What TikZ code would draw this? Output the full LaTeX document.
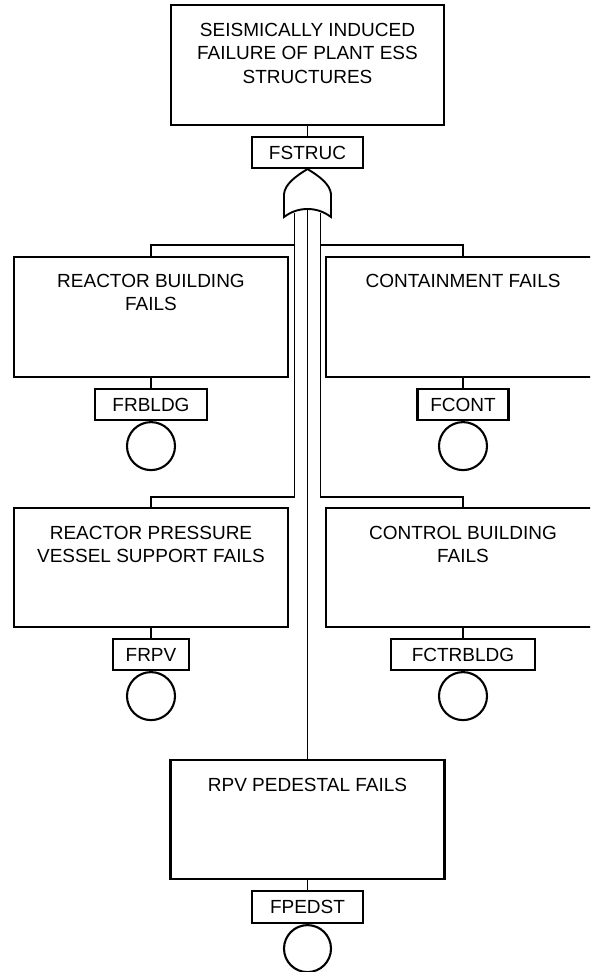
\documentclass[tikz,border=0pt]{standalone}
\usepackage{fontspec}
\setmainfont{Liberation Sans}
\begin{document}
\begin{tikzpicture}[x=1pt,y=-1pt,line width=2.1pt,
  box/.style={draw, rectangle, inner sep=0pt, minimum width=274pt, minimum height=120pt},
  tag/.style={draw, rectangle, inner sep=0pt, minimum height=31pt, font=\fontsize{19}{23.5}\selectfont},
  txt/.style={anchor=north, inner sep=0pt, align=center, font=\fontsize{19}{23.5}\selectfont},
  evt/.style={draw, circle, inner sep=0pt, minimum size=48pt, anchor=north},
  wire/.style={line width=1.9pt}]
\useasboundingbox (0,0) rectangle (590,972);
\clip (0,0) rectangle (590,972);
% top event
\node[box, minimum width=273pt] (top) at (307.5,65) {};
\node[txt] (ttop) at (307.5,22) {SEISMICALLY INDUCED\\FAILURE OF PLANT ESS\\STRUCTURES};
\node[tag, minimum width=111pt] (fstruc) at (307.5,152.5) {FSTRUC};
\draw[wire] (top.south) -- (fstruc.north);
% OR gate
\draw[wire] (fstruc.south) .. controls (296,176) and (285,184) .. (284,194) -- (284,217)
  .. controls (292,211) and (300,209) .. (307.5,209)
  .. controls (315,209) and (323,211) .. (331,217) -- (331,194)
  .. controls (330,184) and (319,176) .. (fstruc.south) -- cycle;
\coordinate (gl) at (294.5,212.5);
\coordinate (gc) at (307.5,209);
\coordinate (gr) at (320.5,212.5);
\coordinate (jl) at (294.5,245);
\coordinate (jr) at (320.5,245);
\coordinate (kl) at (294.5,497);
\coordinate (kr) at (320.5,497);
% second level boxes
\node[box] (rb) at (151,317) {};
\node[txt] (trb) at (151,273) {REACTOR BUILDING\\FAILS};
\node[box] (cont) at (463,317) {};
\node[txt] (tcont) at (463,273) {CONTAINMENT FAILS};
\node[box, minimum height=119pt] (rpvs) at (151,567.5) {};
\node[txt] (trpvs) at (151,525) {REACTOR PRESSURE\\VESSEL SUPPORT FAILS};
\node[box, minimum height=119pt] (cb) at (463,567.5) {};
\node[txt] (tcb) at (463,525) {CONTROL BUILDING\\FAILS};
\node[box, minimum height=119pt] (ped) at (307.5,819.5) {};
\node[txt] (tped) at (307.5,777) {RPV PEDESTAL FAILS};
% wires from gate
\draw[wire] (gl) -- (kl) -| (rpvs.north);
\draw[wire] (jl) -| (rb.north);
\draw[wire] (gr) -- (kr) -| (cb.north);
\draw[wire] (jr) -| (cont.north);
\draw[wire] (gc) -- (ped.north);
% tags and basic events
\node[tag, minimum width=112pt] (frbldg) at (151,404.5) {FRBLDG};
\node[tag, minimum width=91pt] (fcont) at (463,404.5) {FCONT};
\node[tag, minimum width=76pt] (frpv) at (151,654.5) {FRPV};
\node[tag, minimum width=144pt] (fctr) at (463,654.5) {FCTRBLDG};
\node[tag, minimum width=111pt, minimum height=32pt] (fped) at (307.5,907) {FPEDST};
\draw[wire] (rb.south) -- (frbldg.north);
\draw[wire] (cont.south) -- (fcont.north);
\draw[wire] (rpvs.south) -- (frpv.north);
\draw[wire] (cb.south) -- (fctr.north);
\draw[wire] (ped.south) -- (fped.north);
\node[evt] (e1) at (frbldg.south) {};
\node[evt] (e2) at (fcont.south) {};
\node[evt] (e3) at (frpv.south) {};
\node[evt] (e4) at (fctr.south) {};
\node[evt, minimum size=47pt] (e5) at (fped.south) {};
\end{tikzpicture}
\end{document}
